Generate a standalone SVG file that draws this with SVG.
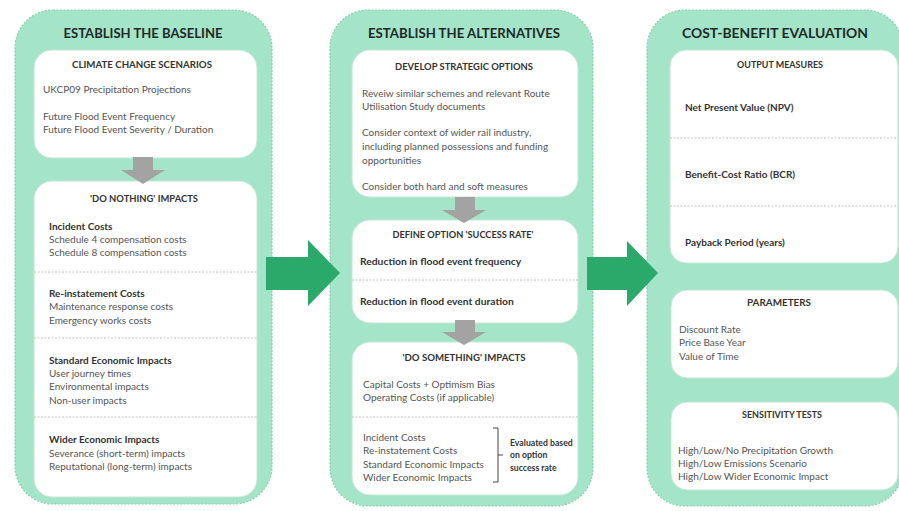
<svg xmlns="http://www.w3.org/2000/svg" width="899" height="511" viewBox="0 0 899 511">
<style>
.panel{fill:#a4e4c9;stroke:#86cfae;stroke-width:1.2;stroke-dasharray:2 1.5}
.box{fill:#ffffff;stroke:#c4e6d6;stroke-width:1}
.div{stroke:#c2c2c2;stroke-width:1;stroke-dasharray:2 1.5;fill:none}
.ttl{font-family:Lato,"Liberation Sans",sans-serif;font-weight:bold;font-size:13.5px;fill:#1f2a26;text-anchor:middle}
.hd{font-family:Lato,"Liberation Sans",sans-serif;font-weight:bold;font-size:9px;fill:#333;text-anchor:middle}
.tx{font-family:Lato,"Liberation Sans",sans-serif;font-size:10px;fill:#555}
.bd{font-family:Lato,"Liberation Sans",sans-serif;font-weight:bold;font-size:10px;fill:#333}
.sm{font-family:Lato,"Liberation Sans",sans-serif;font-weight:bold;font-size:8.7px;fill:#333}
.garrow{fill:#2aa96b}
.gray{fill:#a3a3a3}
.brace{fill:none;stroke:#444;stroke-width:1}
</style>

<g id="panel-baseline">
<rect class="panel" x="15" y="10" width="257" height="494" rx="38"/>
<text class="ttl" x="143" y="38" textLength="159" lengthAdjust="spacingAndGlyphs">ESTABLISH THE BASELINE</text>
</g>
<g id="panel-alternatives">
<rect class="panel" x="330" y="10" width="263" height="496" rx="38"/>
<text class="ttl" x="464" y="38" textLength="192" lengthAdjust="spacingAndGlyphs">ESTABLISH THE ALTERNATIVES</text>
</g>
<g id="panel-cba">
<rect class="panel" x="647" y="10" width="256" height="496" rx="38"/>
<text class="ttl" x="775" y="38" textLength="186" lengthAdjust="spacingAndGlyphs">COST-BENEFIT EVALUATION</text>
</g>

<g id="climate-change-scenarios">
<rect class="box" x="34" y="50" width="223" height="108" rx="18"/>
<text class="hd" x="142" y="68" textLength="140" lengthAdjust="spacingAndGlyphs">CLIMATE CHANGE SCENARIOS</text>
<text class="tx" x="43" y="93">UKCP09 Precipitation Projections</text>
<text class="tx" x="43" y="120">Future Flood Event Frequency</text>
<text class="tx" x="43" y="133">Future Flood Event Severity / Duration</text>
</g>

<g id="do-nothing-impacts">
<rect class="box" x="34" y="181" width="223" height="316" rx="18"/>
<text class="hd" x="144" y="202" textLength="108" lengthAdjust="spacingAndGlyphs">'DO NOTHING' IMPACTS</text>
<text class="bd" x="49" y="230">Incident Costs</text>
<text class="tx" x="49" y="243">Schedule 4 compensation costs</text>
<text class="tx" x="49" y="256">Schedule 8 compensation costs</text>
<line class="div" x1="34" y1="272" x2="257" y2="272"/>
<text class="bd" x="49" y="297">Re-instatement Costs</text>
<text class="tx" x="49" y="310">Maintenance response costs</text>
<text class="tx" x="49" y="324">Emergency works costs</text>
<line class="div" x1="34" y1="338" x2="257" y2="338"/>
<text class="bd" x="49" y="364">Standard Economic Impacts</text>
<text class="tx" x="49" y="377">User journey times</text>
<text class="tx" x="49" y="390">Environmental impacts</text>
<text class="tx" x="49" y="404">Non-user impacts</text>
<line class="div" x1="34" y1="417" x2="257" y2="417"/>
<text class="bd" x="49" y="443">Wider Economic Impacts</text>
<text class="tx" x="49" y="457">Severance (short-term) impacts</text>
<text class="tx" x="49" y="470">Reputational (long-term) impacts</text>
</g>

<g id="develop-strategic-options">
<rect class="box" x="352" y="50" width="226" height="147" rx="18"/>
<text class="hd" x="464" y="70" textLength="138" lengthAdjust="spacingAndGlyphs">DEVELOP STRATEGIC OPTIONS</text>
<text class="tx" x="362" y="97">Reveiw similar schemes and relevant Route</text>
<text class="tx" x="362" y="110">Utilisation Study documents</text>
<text class="tx" x="362" y="136">Consider context of wider rail industry,</text>
<text class="tx" x="362" y="150">including planned possessions and funding</text>
<text class="tx" x="362" y="164">opportunities</text>
<text class="tx" x="362" y="190">Consider both hard and soft measures</text>
</g>

<g id="define-success-rate">
<rect class="box" x="352" y="220" width="226" height="103" rx="18"/>
<text class="hd" x="463" y="238" textLength="141" lengthAdjust="spacingAndGlyphs">DEFINE OPTION 'SUCCESS RATE'</text>
<text class="bd" x="360" y="265" style="font-size:10.3px">Reduction in flood event frequency</text>
<line class="div" x1="352" y1="280" x2="578" y2="280"/>
<text class="bd" x="360" y="305" style="font-size:10.3px">Reduction in flood event duration</text>
</g>

<g id="do-something-impacts">
<rect class="box" x="352" y="342" width="226" height="153" rx="18"/>
<text class="hd" x="464" y="361" textLength="123" lengthAdjust="spacingAndGlyphs">'DO SOMETHING' IMPACTS</text>
<text class="tx" x="363" y="388">Capital Costs  +  Optimism Bias</text>
<text class="tx" x="363" y="401">Operating Costs (if applicable)</text>
<line class="div" x1="352" y1="417" x2="578" y2="417"/>
<text class="tx" x="363" y="441">Incident Costs</text>
<text class="tx" x="363" y="454">Re-instatement Costs</text>
<text class="tx" x="363" y="468">Standard Economic Impacts</text>
<text class="tx" x="363" y="481">Wider Economic Impacts</text>
<path class="brace" d="M493 428 H498 V482 H493 M498 455 H503"/>
<text class="sm" x="510" y="446">Evaluated based</text>
<text class="sm" x="510" y="458">on option</text>
<text class="sm" x="510" y="471">success rate</text>
</g>

<g id="output-measures">
<rect class="box" x="670" y="50" width="228" height="213" rx="16"/>
<text class="hd" x="780" y="68" textLength="86" lengthAdjust="spacingAndGlyphs">OUTPUT MEASURES</text>
<text class="bd" x="685" y="111">Net Present Value (NPV)</text>
<line class="div" x1="670" y1="138" x2="898" y2="138"/>
<text class="bd" x="685" y="178">Benefit-Cost Ratio (BCR)</text>
<line class="div" x1="670" y1="206" x2="898" y2="206"/>
<text class="bd" x="685" y="246">Payback Period (years)</text>
</g>

<g id="parameters">
<rect class="box" x="671" y="290" width="227" height="88" rx="16"/>
<text class="hd" x="779" y="306" textLength="64" lengthAdjust="spacingAndGlyphs">PARAMETERS</text>
<text class="tx" x="679" y="333">Discount Rate</text>
<text class="tx" x="679" y="346">Price Base Year</text>
<text class="tx" x="679" y="360">Value of Time</text>
</g>

<g id="sensitivity-tests">
<rect class="box" x="671" y="402" width="227" height="88" rx="16"/>
<text class="hd" x="782" y="418" textLength="80" lengthAdjust="spacingAndGlyphs">SENSITIVITY TESTS</text>
<text class="tx" x="678" y="454">High/Low/No Precipitation Growth</text>
<text class="tx" x="678" y="467">High/Low Emissions Scenario</text>
<text class="tx" x="678" y="480">High/Low Wider Economic Impact</text>
</g>

<g id="connectors">
<polygon class="garrow" points="266,257 308,257 308,240 340,273 308,306 308,290 266,290"/>
<polygon class="garrow" points="587,257 627,257 627,241 658,273 627,306 627,290 587,290"/>
<polygon class="gray" points="133,157 153,157 153,170 165,170 143,184 121,170 133,170"/>
<polygon class="gray" points="455,197 475,197 475,210 486,210 464,223 442,210 455,210"/>
<polygon class="gray" points="455,320 475,320 475,332 486,332 464,345 442,332 455,332"/>
</g>
</svg>
